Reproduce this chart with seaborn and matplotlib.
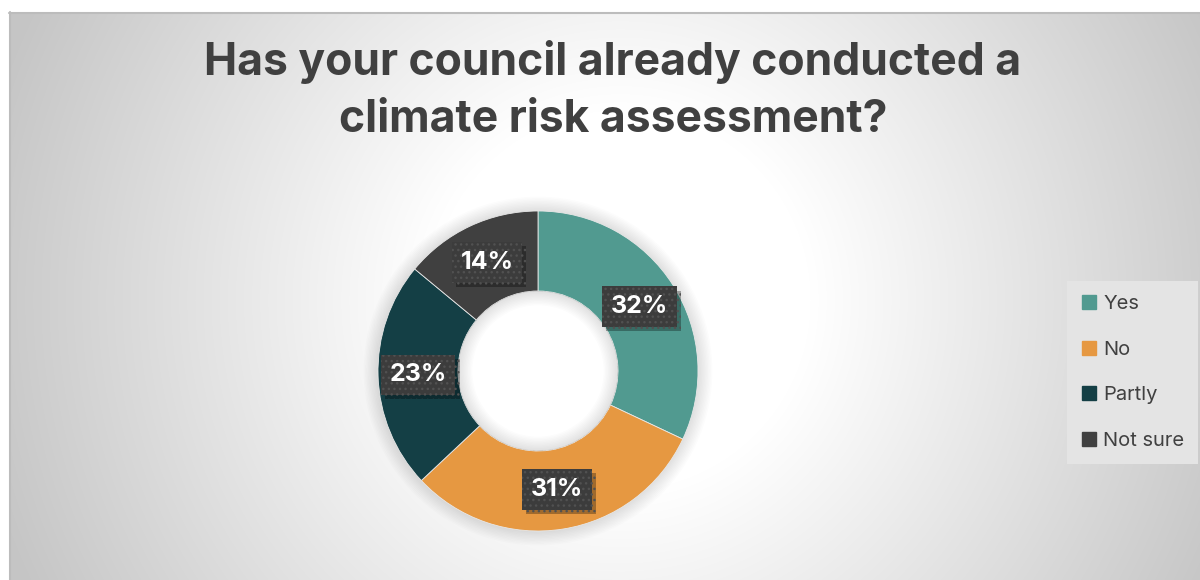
import numpy as np
import matplotlib
matplotlib.use("Agg")
import matplotlib.pyplot as plt
import matplotlib.patheffects as pe
from matplotlib.lines import Line2D
from matplotlib.patches import Wedge
import seaborn as sns

# Survey answers and their shares (percent)
categories = ["Yes", "No", "Partly", "Not sure"]
shares = [32, 31, 23, 14]
colors = ["#519A90", "#E69841", "#143F45", "#404040"]
title = "Has your council already conducted a\nclimate risk assessment?"

sns.set_theme(style="white")
plt.rcParams["font.family"] = ["Inter", "DejaVu Sans"]
palette = sns.color_palette(colors)

W, H = 1200, 580
fig = plt.figure(figsize=(W / 100, H / 100), dpi=100, facecolor="white")

# Chart area: radial grey-to-white gradient fill
L, T = 9, 12
bg = fig.add_axes([L / W, 0, (W - L) / W, (H - T) / H])
yy, xx = np.mgrid[T:H, L:W]
d = np.hypot(xx - 620.0, yy - 300.0)
g = 255 - np.clip((d - 190.0) / 470.0, 0, 1) * 58
img = np.dstack([g, g, g]).astype(np.uint8)
bg.imshow(img, extent=[L, W, H, T], aspect="auto", interpolation="bilinear")
bg.set_xlim(L, W)
bg.set_ylim(H, T)
bg.axis("off")
bg.plot([L, W], [T + 0.5, T + 0.5], color="#bcbcbc", lw=1.5, clip_on=False)
bg.plot([L + 0.5, L + 0.5], [T, H], color="#bcbcbc", lw=1.5, clip_on=False)

# Donut axes
R = 160
cx, cy = 538, 371
ax = fig.add_axes([(cx - 1.3 * R) / W, (H - cy - 1.3 * R) / H, 2.6 * R / W, 2.6 * R / H])

# soft shadow around the ring, outside and inside the hole
for k in range(1, 11):
    ax.add_patch(Wedge((0, 0), 1 + 0.009 * k, 0, 360, width=0.009 * k + 0.01,
                       facecolor="black", alpha=0.012, lw=0, zorder=0))
    ax.add_patch(Wedge((0, 0), 0.5, 0, 360, width=0.009 * k,
                       facecolor="black", alpha=0.012, lw=0, zorder=3))

wedges, _ = ax.pie(shares, colors=palette, startangle=90, counterclock=False, radius=1,
                   wedgeprops=dict(width=0.5, edgecolor="#e8e8e8", linewidth=0.6))
ax.set_xlim(-1.3, 1.3)
ax.set_ylim(-1.3, 1.3)
ax.set_aspect("equal")
ax.axis("off")

for w, v in zip(wedges, shares):
    ang = np.deg2rad((w.theta1 + w.theta2) / 2)
    x, y = 0.75 * np.cos(ang), 0.75 * np.sin(ang)
    t = ax.text(x, y, f"{v}%", ha="center", va="center", color="white", fontsize=18,
                fontweight="bold", zorder=5,
                bbox=dict(boxstyle="square,pad=0.35", fc="#3c3c3c", ec="#515151", lw=0,
                          hatch="..."))
    t.get_bbox_patch().set_path_effects([
        pe.SimplePatchShadow(offset=(3, -3), shadow_rgbFace="black", alpha=0.3),
        pe.Normal()])

# Title
fig.text(613 / W, 1 - 40 / H, title, ha="center", va="top", fontsize=32,
         fontweight="bold", color="#404040", linespacing=1.45)

# Legend
handles = [Line2D([], [], marker="s", ls="none", markersize=10,
                  markerfacecolor=c, markeredgecolor=c) for c in palette]
leg = fig.legend(handles, categories, loc="upper left",
                 bbox_to_anchor=(1067 / W, 1 - 281 / H), frameon=True,
                 facecolor="#e4e4e4", edgecolor="none", fancybox=False, framealpha=1,
                 fontsize=14.5, labelcolor="#404040", labelspacing=1.36, handlelength=0.8,
                 handletextpad=0.3, borderpad=0.7, borderaxespad=0)

fig.savefig("out.png", dpi=100, facecolor="white")
